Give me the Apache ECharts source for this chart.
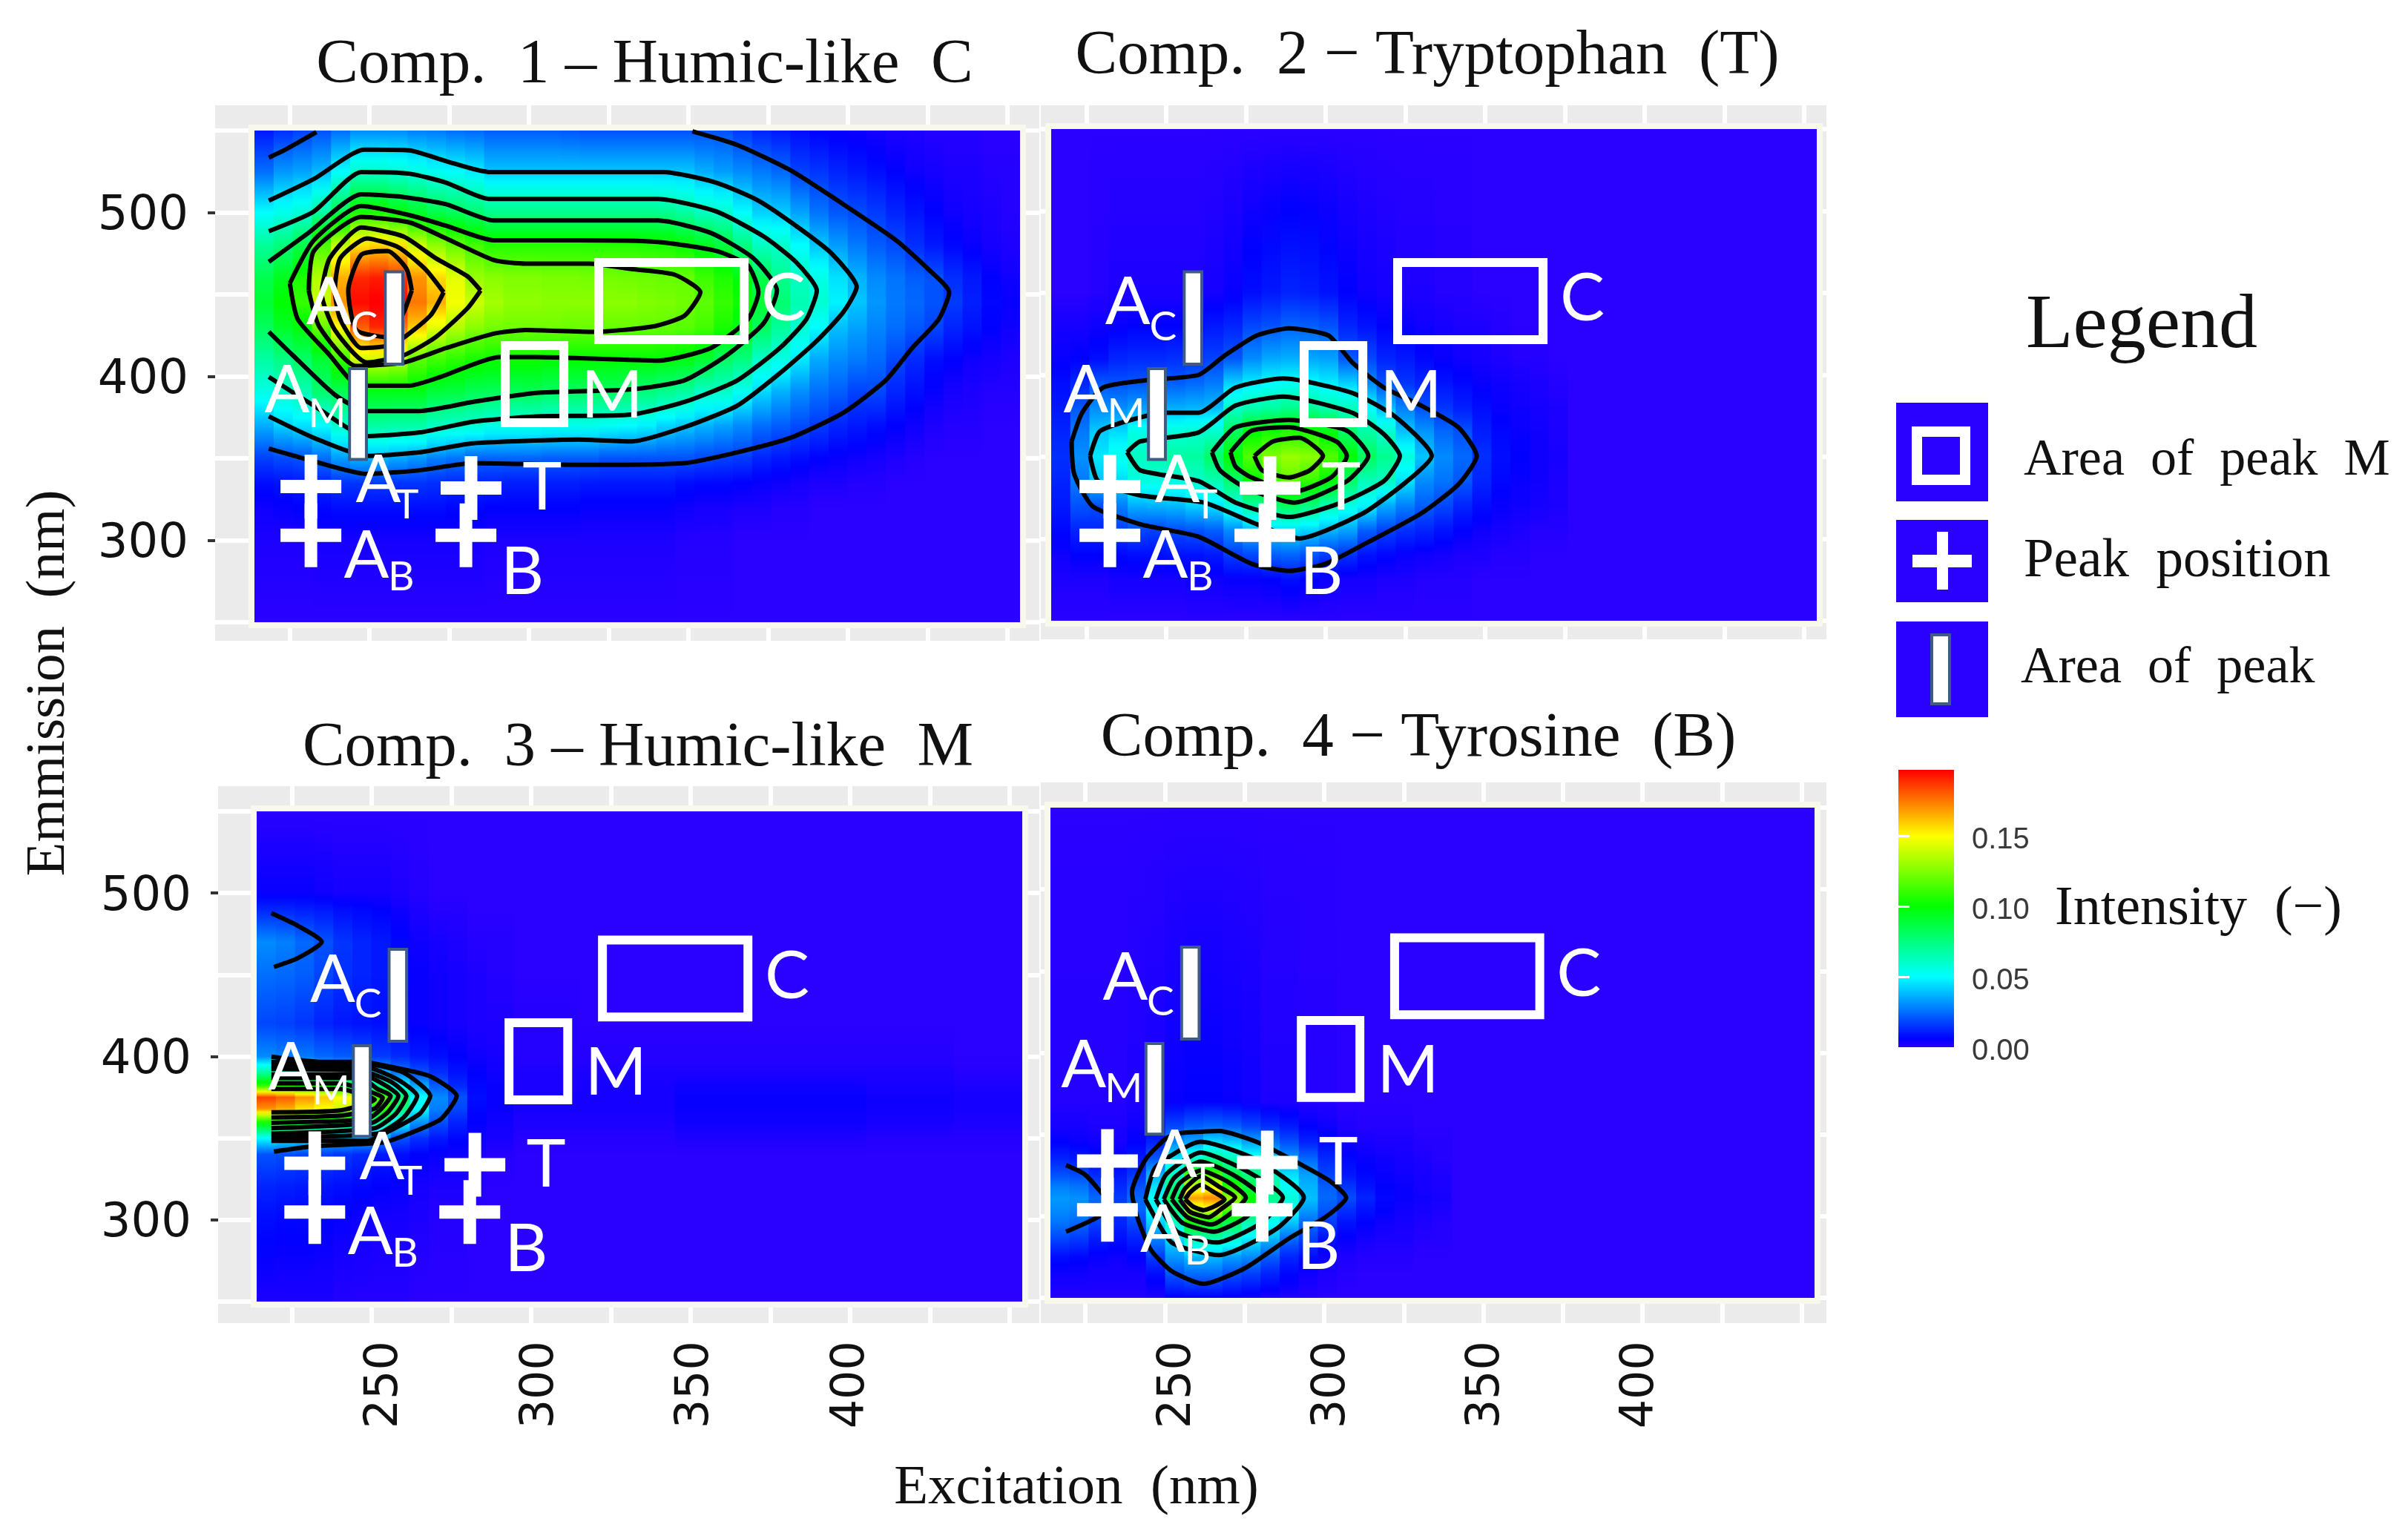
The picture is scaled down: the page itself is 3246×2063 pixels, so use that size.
<!DOCTYPE html>
<html>
<head>
<meta charset="utf-8">
<style>html,body{margin:0;padding:0;background:#fff}#c{width:3246px;height:2063px}</style>
<script src="https://cdn.jsdelivr.net/npm/echarts@6/dist/echarts.min.js"></script>
</head>
<body>
<div id="c"></div>
<script>
// ---- Intensity x 1000, one inner array per excitation column, ordered as the emission list ----
const excitation1 = [217,223,229,235,241,247,253,259,265,271,277,283,289,295,301,307,313,319,325,331,337,343,349,355,361,367,373,379,385,391,397,403,409,415,421,427,433,439,445,451];
const emission1 = [550,525,500,480,460,445,430,410,390,370,350,335,320,300,250];
const comp1 = [
[10,25,50,70,85,90,82,68,55,36,17,8,4,2,0],
[14,32,54,76,95,100,93,74,60,42,19,9,5,2,0],
[17,34,58,85,105,110,98,80,64,45,20,10,6,2,0],
[20,38,68,115,135,140,120,90,78,50,25,12,7,3,0],
[25,50,85,138,165,170,150,110,82,60,33,15,8,3,0],
[30,60,105,155,190,195,180,140,95,68,37,15,8,3,0],
[30,60,105,158,192,198,190,140,95,68,37,16,8,3,0],
[30,58,98,155,188,195,175,135,95,67,35,15,8,3,0],
[28,55,92,140,170,175,160,118,95,67,32,15,8,3,0],
[27,52,85,128,157,165,145,112,88,62,28,14,8,3,0],
[25,50,82,120,145,148,135,108,87,60,26,13,7,3,0],
[24,47,78,113,130,140,127,104,83,58,23,12,7,3,0],
[22,40,73,107,127,132,123,102,82,55,23,12,6,2,0],
[22,40,73,107,125,128,122,102,82,55,23,11,6,2,0],
[22,40,73,107,125,128,122,102,83,55,23,11,6,2,0],
[22,40,73,107,124,127,122,100,80,54,22,11,6,2,0],
[21,40,73,107,124,127,121,100,80,54,22,11,6,2,0],
[20,40,73,107,123,127,121,100,80,54,22,10,5,2,0],
[20,40,73,107,123,127,120,100,80,52,20,10,5,2,0],
[20,40,73,107,122,127,120,99,79,50,20,10,5,2,0],
[20,40,73,106,121,125,120,99,76,48,20,10,5,2,0],
[20,40,72,105,120,124,119,98,72,43,20,10,5,2,0],
[20,40,68,101,120,122,117,96,68,40,20,8,4,1,0],
[20,36,62,95,112,118,113,90,60,37,18,7,3,1,0],
[20,33,60,88,106,110,105,80,60,34,17,7,3,1,0],
[16,30,50,75,98,103,96,75,52,30,16,6,2,0,0],
[12,27,42,62,85,90,82,60,43,25,12,5,2,0,0],
[10,24,41,60,72,78,70,55,36,22,10,4,1,0,0],
[8,17,34,50,62,65,59,46,30,19,8,3,1,0,0],
[6,15,26,40,55,59,50,35,25,16,6,2,0,0,0],
[5,12,21,33,45,48,39,30,22,12,5,2,0,0,0],
[4,10,19,27,37,40,34,27,17,10,4,1,0,0,0],
[3,8,16,22,30,32,29,24,18,8,3,1,0,0,0],
[2,6,12,19,26,27,25,18,12,6,2,0,0,0,0],
[2,4,9,14,22,24,21,13,8,4,1,0,0,0,0],
[1,3,6,10,20,20,18,8,5,2,0,0,0,0,0],
[1,2,4,7,14,16,12,6,3,1,0,0,0,0,0],
[1,2,3,5,10,11,9,4,2,1,0,0,0,0,0],
[0,1,2,3,6,7,6,3,1,0,0,0,0,0,0],
[0,1,1,2,4,5,4,2,1,0,0,0,0,0,0]
];
const excitation2 = [217,223,229,235,241,247,253,259,265,271,277,283,289,295,301,307,313,319,325,331,337,343,349,355,361,367,373];
const emission2 = [550,450,430,410,395,380,365,350,335,320,305,290,275,250];
const comp2 = [
[0,0,3,5,8,10,12,14,12,10,7,4,2,0],
[0,0,3,6,12,21,27,31,27,20,12,6,2,0],
[0,1,4,8,21,30,41,46,40,19,12,6,2,0],
[0,2,5,12,20,30,44,54,43,28,16,7,3,0],
[0,2,6,13,21,33,55,62,56,36,18,8,3,0],
[0,2,6,13,21,35,58,66,55,37,17,8,3,0],
[0,2,6,14,22,36,58,68,56,38,19,9,3,0],
[0,2,7,15,24,37,60,69,60,42,20,9,4,0],
[0,3,10,17,27,38,60,80,65,45,22,10,4,0],
[0,5,12,21,42,60,82,100,78,56,30,16,5,0],
[0,8,18,30,47,65,100,116,100,68,37,18,5,0],
[0,10,20,35,50,68,104,125,112,78,42,22,6,0],
[0,12,23,36,52,72,106,130,118,82,44,23,8,0],
[0,11,22,35,50,70,105,127,110,75,42,20,6,0],
[0,9,20,34,47,65,98,115,100,64,37,16,4,0],
[0,6,12,21,42,62,80,100,80,55,34,14,3,0],
[0,4,9,18,30,50,68,82,64,48,22,9,3,0],
[0,3,6,12,20,38,60,72,62,35,17,7,2,0],
[0,2,5,10,15,28,40,56,45,28,14,5,2,0],
[0,2,4,7,12,20,32,40,30,22,12,4,1,0],
[0,1,3,5,9,15,24,30,26,18,9,3,1,0],
[0,1,2,4,7,11,20,24,21,12,6,2,1,0],
[0,0,2,3,5,8,11,14,12,8,4,2,0,0],
[0,0,1,2,4,5,7,8,7,5,3,1,0,0],
[0,0,0,1,3,4,5,6,5,4,2,1,0,0],
[0,0,0,1,2,3,4,4,4,3,1,0,0,0],
[0,0,0,0,1,2,2,3,2,2,1,0,0,0]
];
const excitation3 = [217,223,229,235,241,247,253,259,265,271,277,283,289,300,330,360,390,420,445];
const emission3 = [550,500,490,470,450,420,400,390,382,375,368,360,350,340,320,300,250];
const comp3 = [
[0,5,12,30,25,18,30,70,110,185,170,105,50,20,12,8,2],
[0,5,12,28,24,17,28,65,105,180,165,100,47,19,11,7,2],
[0,5,11,24,22,15,27,60,100,170,155,95,44,18,10,7,2],
[0,4,10,20,18,12,24,55,95,160,150,90,40,17,9,6,2],
[0,3,8,15,14,10,22,50,90,150,140,85,40,15,8,5,1],
[0,3,7,12,12,9,20,45,85,135,130,80,38,13,7,4,1],
[0,3,6,10,10,8,16,36,70,115,110,70,30,10,6,3,1],
[0,2,4,7,8,7,13,27,50,80,75,50,20,8,5,3,1],
[0,1,2,4,5,5,10,20,35,50,50,32,14,6,3,2,0],
[0,0,1,3,4,4,8,14,22,30,28,20,10,5,2,1,0],
[0,0,1,2,3,3,6,9,13,20,18,12,7,4,2,1,0],
[0,0,0,1,2,2,4,6,7,8,7,6,4,2,1,0,0],
[0,0,0,1,1,2,3,4,5,5,5,4,3,1,0,0,0],
[0,0,0,0,0,1,1,2,2,3,3,2,1,0,0,0,0],
[0,0,0,0,0,0,1,2,3,3,3,2,1,0,0,0,0],
[0,0,0,0,0,0,1,2,4,5,5,4,2,0,0,0,0],
[0,0,0,0,0,0,1,2,4,5,5,4,2,0,0,0,0],
[0,0,0,0,0,0,1,2,3,4,4,3,1,0,0,0,0],
[0,0,0,0,0,0,0,1,2,3,3,2,1,0,0,0,0]
];
const excitation4 = [217,223,229,235,241,247,253,259,265,271,277,283,289,295,301,307,313,319,325,331,337];
const emission4 = [550,370,355,345,335,325,318,311,304,296,285,275,265,255,250];
const comp4 = [
[0,1,3,6,12,20,28,32,30,26,17,8,4,2,1],
[0,1,3,5,10,19,26,31,29,24,15,7,4,2,1],
[0,1,2,4,8,13,19,24,21,17,10,5,3,2,1],
[0,1,2,3,6,10,13,16,15,12,8,4,3,2,1],
[0,2,4,6,10,15,20,24,23,18,11,6,3,2,1],
[0,3,6,12,21,37,45,50,50,42,27,16,8,4,2],
[0,5,18,30,47,62,75,82,75,62,42,32,21,11,5],
[0,6,22,35,60,118,140,168,137,100,62,38,25,12,6],
[0,6,24,45,70,118,145,172,145,98,62,38,25,12,6],
[0,5,22,42,65,87,108,130,118,85,56,33,20,10,5],
[0,4,18,35,55,75,87,100,90,65,45,30,17,8,4],
[0,2,14,26,42,62,68,72,63,52,36,22,12,6,2],
[0,2,10,20,33,45,52,57,52,40,23,12,7,4,1],
[0,1,6,12,24,34,37,39,33,24,16,8,4,2,1],
[0,1,4,8,13,18,22,24,21,16,8,4,2,1,0],
[0,0,2,4,7,10,15,19,14,9,5,2,1,0,0],
[0,0,1,3,5,7,9,12,9,6,3,1,0,0,0],
[0,0,1,2,4,5,6,7,6,4,2,1,0,0,0],
[0,0,1,2,3,4,5,5,4,3,2,1,0,0,0],
[0,0,0,1,2,3,3,4,3,2,1,0,0,0,0],
[0,0,0,1,1,2,2,3,2,1,1,0,0,0,0]
];

// ---- Contour lines, [excitation, emission] ----
const contours1 = [
[[218.5,533.5],[224.3,539],[233.4,549]],
[[351.3,549.5],[365.4,541.2],[382,525.8],[398.6,505],[415.2,483],[425.2,465.5],[431.8,451.3],[428.5,434.8],[420.2,417.3],[411.9,397.6],[398.6,377.8],[382,362.5],[365.4,353.7],[348.8,347.1],[315.6,346],[282.4,347.1],[265.8,342.7],[249.2,340.5],[232.6,348.2],[218.5,355.9]],
[[218.5,507.2],[232.6,520.4],[248.4,538.3],[262.5,537.9],[274.1,531.3],[287.4,524.7],[342.2,524.7],[358.8,518.2],[372,507.2],[385.3,489.7],[395.3,474.3],[402.8,454.6],[398.6,439.2],[390.3,421.7],[378.7,401.9],[365.4,382.2],[348.8,369],[332.2,360.3],[315.6,361.4],[282.4,359.2],[265.8,353.7],[249.2,351.5],[232.6,362.5],[218.5,375.6]],
[[218.5,488.6],[232.6,500.6],[247.5,524.7],[262.5,523.7],[274.1,518.2],[287.4,508.3],[340.5,508.3],[358.8,500.6],[373.7,485.3],[383.7,469.9],[390.3,452.4],[387,434.8],[378.7,417.3],[365.4,397.6],[348.8,384.4],[332.2,376.7],[302.3,375.6],[282.4,372.3],[265.8,365.8],[249.2,363.6],[232.6,382.2],[218.5,399.7]],
[[218.5,469.9],[230.9,487.5],[247.5,511.1],[260.8,509.4],[274.1,505],[289,495.1],[340.5,495.1],[357.1,487.5],[370.4,472.1],[377.8,452.4],[373.7,432.6],[362.1,412.9],[348.8,397.6],[332.2,392.1],[302.3,389.9],[282.4,384.4],[265.8,378.9],[249.2,378.9],[239.2,388.8],[226,412.9],[218.5,427.2]],
[[225.1,456.8],[232.6,483],[247.5,503.9],[262.5,498.4],[274.1,491.9],[289,483],[315.6,483],[340.5,482],[358.8,476.5],[368.7,467.7],[372,451.3],[368.7,434.8],[357.1,417.3],[340.5,409.6],[302.3,411.8],[290.7,411.8],[272.4,399.7],[262.5,394.3],[249.2,394.3],[244.2,397.6],[237.6,412.9],[227.6,434.8],[225.1,456.8]],
[[231,452.4],[232.6,476.5],[247.5,497.3],[262.5,494],[274.1,484.2],[289,471],[299,468.8],[318.9,468.8],[332.2,465.5],[345.5,462.2],[353.8,451.3],[348.8,437],[338.8,430.4],[320.6,427.2],[299,428.3],[289,426.1],[274.1,417.3],[260.8,408.5],[245.9,406.3],[234.3,430.4],[231,452.4]],
[[284.9,452.4],[280.7,461.2],[270.8,472.1],[260.8,485.3],[247.5,490.8],[237.6,472.1],[235.1,450.2],[239.2,428.3],[249.2,408.5],[260.8,412.9],[270.8,423.9],[280.7,441.4],[284.9,452.4]],
[[273.3,451.3],[267.5,465.5],[259.2,478.7],[249.2,484.2],[240.9,472.1],[239.2,452.4],[240.9,434.8],[247.5,417.3],[257.5,419.5],[269.1,437],[273.3,451.3]],
[[263.3,452.4],[261.7,465.5],[255.8,476.5],[247.5,474.3],[243.4,452.4],[245.9,428.3],[255.8,423.9],[260.8,439.2],[263.3,452.4]]
];
const contours2 = [
[[220.4,359.4],[223.7,376.9],[230.3,392.3],[243.6,396.7],[260.2,400],[268.5,412],[278.5,424.1],[288.5,428.4],[300.9,424.1],[308.4,407.6],[318.3,392.3],[330,381.3],[341.6,368.1],[347.4,350.6],[341.6,333.1],[330,315.5],[313.4,298],[300.1,284.8],[288.5,280.4],[276.8,284.8],[260.2,301.3],[241.9,308.9],[227,319.9],[221.2,339.6],[220.4,359.4]],
[[226.2,350.6],[229.5,366],[250.2,376.9],[260.2,376.9],[271.8,392.3],[286.8,397.8],[308.4,389],[321.7,374.7],[333.3,350.6],[325,334.2],[311.7,315.5],[291.8,300.2],[278.5,308.9],[261.9,322.1],[241.9,326.5],[228.7,335.2],[226.2,350.6]],
[[237.8,352.8],[241.9,359.4],[260.2,364.9],[271.8,381.3],[286.8,386.8],[308.4,376.9],[318.3,363.8],[323.3,350.6],[318.3,335.2],[305,322.1],[288.5,313.3],[271.8,322.1],[260.2,335.2],[241.9,341.8],[237.8,352.8]],
[[264.4,352.8],[271.8,368.1],[288.5,372.5],[306.7,366],[313.4,350.6],[306.7,335.2],[290.1,322.1],[275.2,330.9],[266.9,341.8],[264.4,352.8]],
[[270.2,352.8],[276.8,365.9],[288.5,368.1],[303.4,359.4],[306.7,350.6],[301.7,337.4],[290.1,328.7],[276.8,337.4],[271.8,344],[270.2,352.8]],
[[277.7,350.6],[283.5,359.4],[291.8,361.6],[299.2,350.6],[295.1,341.8],[288.5,337.4],[280.1,341.8],[277.7,350.6]]
];
const contours3 = [
[[218.6,487.7],[226.9,480],[234.4,470.1],[226.9,460.2],[219.4,454.8]],
[[218.6,399.9],[234.4,396.7],[246.8,396.7],[256.8,393.4],[268.4,387.9],[276.7,375.8],[271.7,361.6],[261.8,352.8],[253.5,347.3],[231.9,345.1],[219.4,341.8]],
[[218.6,396.7],[248.5,395.6],[260.1,390.1],[268.4,375.8],[265.1,364.9],[255.1,353.9],[248.5,348.4],[218.6,348.4]],
[[218.6,394.5],[248.5,393.4],[258.4,385.7],[264.3,375.8],[260.1,362.7],[251.8,352.8],[218.6,350.6]],
[[218.6,392.3],[246.8,391.2],[256,384.6],[260.9,375.8],[257.6,364.9],[251,356.1],[218.6,352.8]],
[[218.6,389],[246.8,389],[254.3,382.4],[258.4,375.8],[255.1,365.9],[250.1,359.4],[218.6,356.1]],
[[218.6,386.8],[246.8,386.8],[251.8,380.2],[256,375.8],[252.6,367],[248.5,361.6],[218.6,359.4]],
[[218.6,383.5],[240.2,383.5],[250.1,378],[253.5,374.7],[251,368.1],[240.2,363.8],[218.6,362.7]],
[[218.6,380.2],[240.2,380.2],[248.5,375.8],[251,373.6],[240.2,367],[218.6,365.9]]
];
const contours4 = [
[[218.9,331.2],[224.7,325.7],[228.9,316.9],[232.2,308],[229.7,300.4],[218.9,290.5]],
[[255.4,351],[267,352.1],[278.7,345.5],[292,332.3],[301.9,321.3],[306.9,311.4],[300.3,299.3],[288.7,286.1],[275.4,268.5],[262.1,258.6],[252.1,266.3],[245.5,279.5],[241.3,299.3],[239.6,314.7],[243.8,334.5],[250.4,347.7],[255.4,351]],
[[243.8,310.3],[247.1,330.1],[261.2,345.5],[278.7,334.5],[293.6,311.4],[285.3,292.7],[267,276.2],[252.1,283.9],[243.8,310.3]],
[[247.1,310.3],[250.4,325.7],[261.2,338.9],[275.4,327.9],[287,311.4],[280.3,296],[266.2,283.9],[253.8,290.5],[247.1,310.3]],
[[249.6,310.3],[252.9,323.5],[261.2,333.4],[272,324.6],[280.3,311.4],[275.4,299.3],[265.4,290.5],[255.4,296],[249.6,310.3]],
[[252.1,310.3],[254.6,320.2],[261.2,327.9],[269.5,321.3],[275.4,311.4],[271.2,302.6],[264.6,294.9],[257.1,299.3],[252.1,310.3]],
[[254.6,310.3],[256.3,316.9],[261.2,324.6],[267,318],[272,311.4],[267.9,304.8],[263.7,299.3],[257.9,302.6],[254.6,310.3]],
[[256.3,310.3],[257.9,314.7],[261.2,319.1],[265.4,314.7],[268.7,310.3],[265.4,305.9],[262.1,303.7],[258.8,305.9],[256.3,310.3]]
];

// ---- Peak overlays, [excitation from, to, emission from, to] and [excitation, emission] ----
const peakBoxes = [[321.9,367.5,422.4,469.5],[292.6,311,371.7,418.8]];
const peakBars = [[255,260.5,407.5,463.8],[243.8,249.1,349.3,404.8]];
const peakCrosses = [[231.7,332.8],[231.7,303],[281.9,331.9],[280.3,303]];
const peakNames = [['A',237.3,444.9],['A',224.2,391.1],['A',252.8,336.3],['A',249.1,290.2],['T',304.2,331.8],['B',298,280.2],['M',326.1,387.9],['C',379.8,447.2]];
const peakSubscripts = [['C',248.4,430],['M',236.8,377],['T',261.7,321.5],['B',260,277.6]];

// ---- Text and scale ----
const panelTitles = ['Comp.  1 – Humic-like  C','Comp.  2 − Tryptophan  (T)','Comp.  3 – Humic-like  M','Comp.  4 − Tyrosine  (B)'];
const excitationTicks = [250,300,350,400];
const emissionTicks = [300,400,500];
const gridExcitation = [225,250,275,300,325,350,375,400,425,450];
const gridEmission = [250,300,350,400,450,500,550];
const colourStops = [[0,'#2a00ff'],[0.006,'#0000ff'],[0.05,'#00ffff'],[0.10,'#00ff00'],[0.15,'#ffff00'],[0.197,'#ff0000']];
const colourbarTicks = [0.05,0.10,0.15];
const colourbarLabels = [0,0.05,0.10,0.15];
const colourbarTop = 0.197;

const SERIF = '"Liberation Serif"';
const LETTER = 'Lato';
const NUM = '"DejaVu Sans"';

function hex(c){return [1,3,5].map(i=>parseInt(c.substr(i,2),16));}
const rampRGB = colourStops.map(s=>[s[0],hex(s[1])]);
function colour(v){
  if(v<=rampRGB[0][0]) return 'rgb('+rampRGB[0][1].join(',')+')';
  for(let i=1;i<rampRGB.length;i++){
    if(v<=rampRGB[i][0]){
      const t=(v-rampRGB[i-1][0])/(rampRGB[i][0]-rampRGB[i-1][0]);
      const a=rampRGB[i-1][1],b=rampRGB[i][1];
      return 'rgb('+[0,1,2].map(k=>Math.round(a[k]+(b[k]-a[k])*t)).join(',')+')';
    }
  }
  return 'rgb('+rampRGB[rampRGB.length-1][1].join(',')+')';
}
function columnGradient(ys,vals,yTop,yBot){
  const stops=[];
  for(let j=0;j<ys.length;j++){
    const off=(yTop-ys[j])/(yTop-yBot);
    stops.push({offset:Math.max(0,Math.min(1,off)),color:colour(vals[j]/1000)});
    if(j<ys.length-1){
      for(let s=1;s<4;s++){
        const o2=(yTop-(ys[j]+(ys[j+1]-ys[j])*s/4))/(yTop-yBot);
        stops.push({offset:Math.max(0,Math.min(1,o2)),color:colour((vals[j]+(vals[j+1]-vals[j])*s/4)/1000)});
      }
    }
  }
  return {type:'linear',x:0,y:0,x2:0,y2:1,colorStops:stops};
}

const grids=[],xAxes=[],yAxes=[],series=[];
const panels=[
 {box:[290,142,1111,722],x:[201.67,460.05],y:[238.69,565.38],xs:excitation1,ys:emission1,m:comp1,c:contours1,shift:[0,0],yLabels:true,xLabels:null},
 {box:[1403,142,1059,720],x:[210.74,457.02],y:[238.69,564.48],xs:excitation2,ys:emission2,m:comp2,c:contours2,shift:[0.7,-0.9],yLabels:false,xLabels:null},
 {box:[294,1060,1107,724],x:[201.9,459.35],y:[236.84,565.43],xs:excitation3,ys:emission3,m:comp3,c:contours3,shift:[0.5,1.8],yLabels:true,xLabels:[196.3,460.5]},
 {box:[1403,1055,1059,729],x:[210.97,457.73],y:[234.57,565.43],xs:excitation4,ys:emission4,m:comp4,c:contours4,shift:[0.2,0.9],yLabels:false,xLabels:[205.5,460.1]}
];
panels.forEach((p,g)=>{
  grids.push({left:p.box[0],top:p.box[1],width:p.box[2],height:p.box[3],backgroundColor:'#ebebeb',show:true,borderWidth:0,containLabel:false});
  const xi=xAxes.length, yi=yAxes.length;
  xAxes.push({type:'value',gridIndex:g,min:p.x[0],max:p.x[1],axisLine:{show:false},axisLabel:{show:false},
    axisTick:{show:false,customValues:gridExcitation},splitLine:{show:true,lineStyle:{color:'#fff',width:6}}});
  yAxes.push({type:'value',gridIndex:g,min:p.y[0],max:p.y[1],axisLine:{show:false},axisLabel:{show:false},
    axisTick:{show:false,customValues:gridEmission},splitLine:{show:true,lineStyle:{color:'#fff',width:6}}});
  if(p.yLabels){
    // tick marks sit on the scale; the printed numbers sit slightly below them in the reference
    yAxes.push({type:'value',gridIndex:g,position:'left',min:p.y[0],max:p.y[1],axisLine:{show:false},splitLine:{show:false},
      axisTick:{show:true,length:10,lineStyle:{color:'#333',width:4},customValues:emissionTicks},axisLabel:{show:false}});
    yAxes.push({type:'value',gridIndex:g,position:'left',min:p.y[0]+2.7,max:p.y[1]+2.7,axisLine:{show:false},splitLine:{show:false},
      axisTick:{show:false,customValues:emissionTicks},
      axisLabel:{show:true,customValues:emissionTicks,margin:36,fontFamily:NUM,fontSize:64,color:'#111'}});
  }
  if(p.xLabels){
    xAxes.push({type:'value',gridIndex:g,position:'bottom',min:p.xLabels[0],max:p.xLabels[1],axisLine:{show:false},splitLine:{show:false},
      axisTick:{show:false,customValues:excitationTicks},
      axisLabel:{show:true,customValues:excitationTicks,rotate:90,margin:24,fontFamily:NUM,fontSize:62,color:'#111'}});
  }
  // plot frame and background
  series.push({type:'custom',coordinateSystem:'cartesian2d',xAxisIndex:xi,yAxisIndex:yi,z:1,silent:true,animation:false,clip:false,
    data:[[214,550]],encode:{x:0,y:1},
    renderItem(params,api){
      const a=api.coord([214,550]),b=api.coord([454,250]);
      const shape={x:a[0],y:a[1],width:b[0]-a[0],height:b[1]-a[1]};
      return {type:'group',children:[
        {type:'rect',shape:shape,style:{fill:'none',stroke:'#f8f8ec',lineWidth:16}},
        {type:'rect',shape:shape,style:{fill:'#2a00ff'}}
      ]};
    }});
  // heat columns
  series.push({type:'custom',name:panelTitles[g],coordinateSystem:'cartesian2d',xAxisIndex:xi,yAxisIndex:yi,z:2,silent:true,animation:false,clip:false,
    data:p.xs.map(x=>[x,p.ys[0]]),encode:{x:0,y:1},
    renderItem(params,api){
      const i=params.dataIndex,xs=p.xs;
      const l=i===0?214:(xs[i-1]+xs[i])/2, r=i===xs.length-1?Math.min(454,xs[i]+(xs[i]-xs[i-1])/2):(xs[i]+xs[i+1])/2;
      const a=api.coord([l,550]),b=api.coord([r,250]);
      return {type:'rect',shape:{x:a[0],y:a[1],width:b[0]-a[0]+(i===xs.length-1?0:0.8),height:b[1]-a[1]},
        style:{fill:columnGradient(p.ys,p.m[i],550,250)}};
    }});
  // contour lines
  p.c.forEach(line=>{
    series.push({type:'line',coordinateSystem:'cartesian2d',xAxisIndex:xi,yAxisIndex:yi,z:4,silent:true,animation:false,
      data:line,showSymbol:false,symbol:'none',smooth:0.2,lineStyle:{color:'#000',width:6},clip:false});
  });
  const S=p.shift;
  // area boxes
  series.push({type:'custom',coordinateSystem:'cartesian2d',xAxisIndex:xi,yAxisIndex:yi,z:6,silent:true,animation:false,clip:false,
    data:peakBoxes.map(d=>[d[0]+S[0],d[3]+S[1],d[1]+S[0],d[2]+S[1]]),encode:{x:[0,2],y:[1,3]},
    renderItem(params,api){
      const a=api.coord([api.value(0),api.value(1)]),b=api.coord([api.value(2),api.value(3)]);
      return {type:'rect',shape:{x:a[0],y:a[1],width:b[0]-a[0],height:b[1]-a[1]},style:{fill:'none',stroke:'#fff',lineWidth:12}};
    }});
  // area bars
  series.push({type:'custom',coordinateSystem:'cartesian2d',xAxisIndex:xi,yAxisIndex:yi,z:6,silent:true,animation:false,clip:false,
    data:peakBars.map(d=>[d[0]+S[0],d[3]+S[1],d[1]+S[0],d[2]+S[1]]),encode:{x:[0,2],y:[1,3]},
    renderItem(params,api){
      const a=api.coord([api.value(0),api.value(1)]),b=api.coord([api.value(2),api.value(3)]);
      return {type:'rect',shape:{x:a[0],y:a[1],width:b[0]-a[0],height:b[1]-a[1]},style:{fill:'#fff',stroke:'#3e5c85',lineWidth:4}};
    }});
  // peak crosses
  series.push({type:'custom',coordinateSystem:'cartesian2d',xAxisIndex:xi,yAxisIndex:yi,z:6,silent:true,animation:false,clip:false,
    data:peakCrosses.map(d=>[d[0]+S[0],d[1]+S[1]]),encode:{x:0,y:1},
    renderItem(params,api){
      const c=api.coord([api.value(0),api.value(1)]);
      return {type:'group',children:[
        {type:'rect',shape:{x:c[0]-41,y:c[1]-9,width:82,height:18},style:{fill:'#fff'}},
        {type:'rect',shape:{x:c[0]-8.5,y:c[1]-43,width:17,height:86},style:{fill:'#fff'}}
      ]};
    }});
  // letters
  const letters=(rows,size)=>({type:'custom',coordinateSystem:'cartesian2d',xAxisIndex:xi,yAxisIndex:yi,z:7,silent:true,animation:false,clip:false,
    data:rows.map(d=>[d[1]+S[0],d[2]+S[1],d[0]]),encode:{x:0,y:1},
    dimensions:['x','y',{name:'t',type:'ordinal'}],
    renderItem(params,api){
      const c=api.coord([api.value(0),api.value(1)]);
      return {type:'text',style:{x:c[0],y:c[1],text:rows[params.dataIndex][0],fill:'#fff',font:'400 '+size+'px '+LETTER,align:'center',verticalAlign:'middle'}};
    }});
  series.push(letters(peakNames,90));
  series.push(letters(peakSubscripts,55));
});

// colour bar with its own axes; the printed numbers use a grid set 6px lower, as in the reference
const cbIndex=grids.length;
grids.push({left:2559,top:1038,width:75,height:374,show:false});
grids.push({left:2559,top:1044,width:75,height:374,show:false});
const cbX=xAxes.length, cbY=yAxes.length;
xAxes.push({type:'value',gridIndex:cbIndex,min:0,max:1,show:false});
xAxes.push({type:'value',gridIndex:cbIndex+1,min:0,max:1,show:false});
yAxes.push({type:'value',gridIndex:cbIndex,position:'right',min:0,max:colourbarTop,z:10,axisLine:{show:false},splitLine:{show:false},
  axisLabel:{show:false},axisTick:{show:true,inside:true,length:15,lineStyle:{color:'#fff',width:3},customValues:colourbarTicks}});
yAxes.push({type:'value',gridIndex:cbIndex,position:'left',min:0,max:colourbarTop,z:10,axisLine:{show:false},splitLine:{show:false},
  axisLabel:{show:false},axisTick:{show:true,inside:true,length:15,lineStyle:{color:'#fff',width:3},customValues:colourbarTicks}});
yAxes.push({type:'value',gridIndex:cbIndex+1,position:'right',min:0,max:colourbarTop,z:10,axisLine:{show:false},splitLine:{show:false},
  axisTick:{show:false,customValues:colourbarLabels},
  axisLabel:{show:true,customValues:colourbarLabels,margin:24,fontFamily:'"Liberation Sans"',fontSize:40,color:'#3a3a3a',formatter:v=>v.toFixed(2)}});
series.push({type:'custom',coordinateSystem:'cartesian2d',xAxisIndex:cbX,yAxisIndex:cbY,z:2,silent:true,animation:false,
  data:[[0,colourbarTop]],encode:{x:0,y:1},
  renderItem(params,api){
    const a=api.coord([0,colourbarTop]),b=api.coord([1,0]);
    const stops=colourStops.map(s=>({offset:1-s[0]/colourbarTop,color:s[1]})).reverse();
    return {type:'rect',shape:{x:a[0],y:a[1],width:b[0]-a[0],height:b[1]-a[1]},
      style:{fill:{type:'linear',x:0,y:0,x2:0,y2:1,colorStops:stops}}};
  }});

const txt=(x,y,s,size)=>({type:'text',x:x,y:y,silent:true,z:20,
  style:{text:s,font:size+'px '+SERIF,fill:'#111',align:'left',verticalAlign:'middle'}});
const tile=(l,t,w,h)=>({type:'rect',silent:true,z:15,shape:{x:l,y:t,width:w,height:h},style:{fill:'#2a00ff'}});

const graphicEls=[
  tile(2556,543,124,133),tile(2556,701,124,111),tile(2556,838,124,129),
  {type:'rect',silent:true,z:16,shape:{x:2584,y:582,width:65,height:65},style:{fill:'none',stroke:'#fff',lineWidth:14}},
  {type:'rect',silent:true,z:16,shape:{x:2578,y:748,width:80,height:17},style:{fill:'#fff'}},
  {type:'rect',silent:true,z:16,shape:{x:2611,y:717,width:15,height:78},style:{fill:'#fff'}},
  {type:'rect',silent:true,z:16,shape:{x:2604,y:856,width:24,height:93},style:{fill:'#fff',stroke:'#3e5c85',lineWidth:4}},
  {type:'text',x:2887,y:441,silent:true,z:20,style:{text:'Legend',font:'104px '+SERIF,fill:'#111',align:'center',verticalAlign:'middle'}},
  txt(2728,622,'Area  of  peak  M',70),
  txt(2728,758,'Peak  position',73),
  txt(2724,902,'Area  of  peak',70),
  txt(2770,1227,'Intensity  (−)',74),
  {type:'text',x:1451,y:2007,silent:true,z:20,style:{text:'Excitation  (nm)',font:'75px '+SERIF,fill:'#111',align:'center',verticalAlign:'middle'}},
  {type:'text',x:66,y:921,rotation:Math.PI/2,silent:true,z:20,style:{text:'Emmission  (nm)',font:'75px '+SERIF,fill:'#111',align:'center',verticalAlign:'middle'}}
];

const titleAt=[[864,89],[1919,77],[855,1010],[1907,997]];
const chart=echarts.init(document.getElementById('c'),null,{renderer:'canvas'});
chart.setOption({
  animation:false,
  backgroundColor:'#fff',
  title:panelTitles.map((t,i)=>({text:t,left:titleAt[i][0],top:titleAt[i][1]-48,textAlign:'center',
    textStyle:{fontFamily:SERIF,fontWeight:'normal',fontSize:85,color:'#111'}})),
  grid:grids,xAxis:xAxes,yAxis:yAxes,series:series,
  graphic:{elements:graphicEls}
});
</script>
</body>
</html>
